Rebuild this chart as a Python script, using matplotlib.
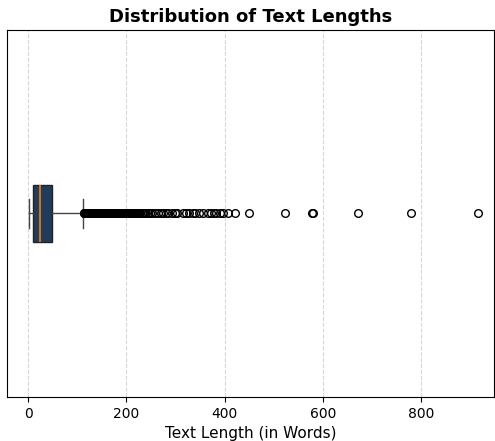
import matplotlib
matplotlib.use("Agg")
import matplotlib.pyplot as plt

# summary of the word counts
q1 = 11
median = 24
q3 = 48
whisker_low = 1
whisker_high = 112

# outliers beyond the upper whisker
outliers = [113, 114, 115, 116, 117, 118, 119, 120, 121, 122, 123, 124, 125,
            126, 127, 128, 129, 130, 131, 132, 133, 134, 135, 136, 137, 138,
            139, 140, 141, 142, 143, 144, 145, 146, 147, 148, 149, 150, 152,
            154, 156, 158, 160, 162, 164, 166, 168, 170, 172, 174, 176, 178,
            180, 182, 184, 186, 188, 190, 192, 194, 196, 198, 200, 202, 204,
            206, 208, 210, 212, 214, 216, 218, 220, 222, 224, 226, 228, 231,
            234, 237, 240, 244, 248, 252,
            258, 265, 270, 275, 280, 285, 292, 298, 303,
            315, 322, 328, 335, 340, 348, 355,
            366, 372, 378, 383, 390, 396, 407, 421, 449,
            523, 577, 580, 672, 779, 915]

stats = [dict(med=median, q1=q1, q3=q3, whislo=whisker_low,
              whishi=whisker_high, fliers=outliers)]

fig, ax = plt.subplots(figsize=(4.95, 4.41), dpi=100)
ax.bxp(stats, vert=False, widths=0.155, patch_artist=True,
       boxprops=dict(facecolor="#1f3d5a", edgecolor="#222222"),
       medianprops=dict(color="#d2711c", linewidth=1.5),
       whiskerprops=dict(color="#444444"),
       capprops=dict(color="#444444"),
       flierprops=dict(marker="o", markerfacecolor="none",
                       markeredgecolor="black", markersize=5.5))

ax.set_yticks([])
ax.set_ylim(0.5, 1.5)
ax.set_xlim(-43, 948)
ax.grid(axis="x", linestyle="--", alpha=0.5)
ax.set_axisbelow(True)
ax.set_title("Distribution of Text Lengths", fontsize=13, fontweight="bold")
ax.set_xlabel("Text Length (in Words)", fontsize=11)

plt.subplots_adjust(left=0.014, right=0.998, top=0.932, bottom=0.1)
plt.savefig("out.png", dpi=100)
